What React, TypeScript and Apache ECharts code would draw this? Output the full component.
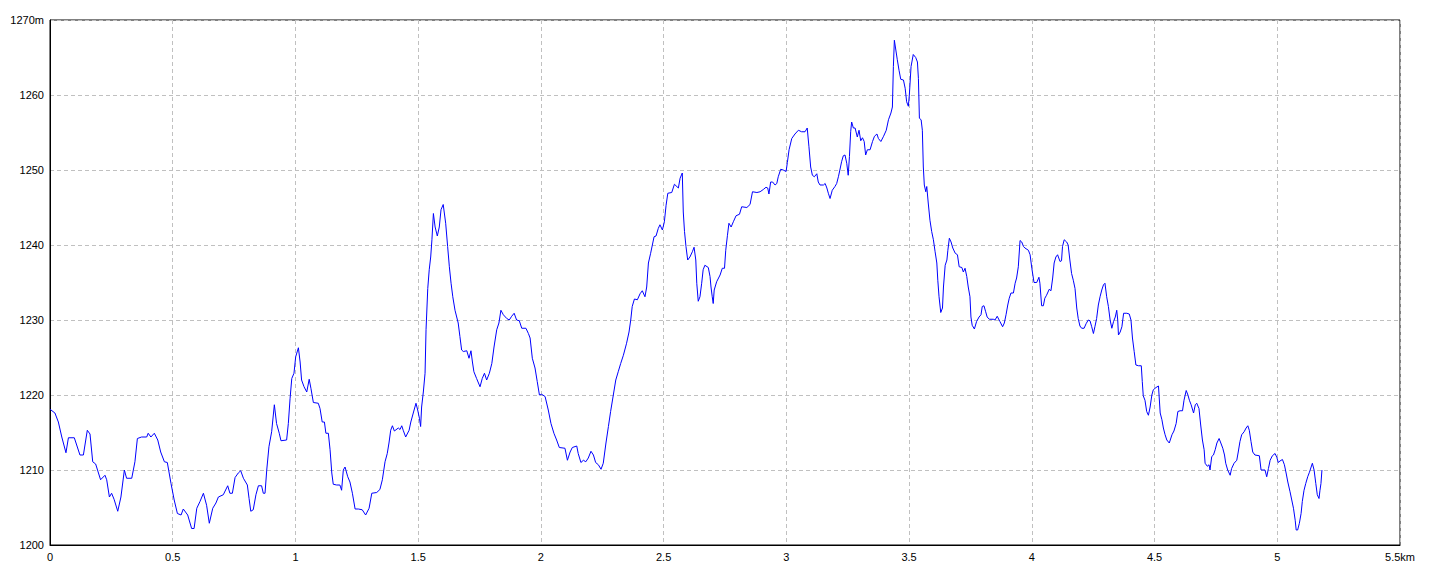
import React, { useEffect, useRef } from "react";
import * as echarts from "echarts";

const distKm: number[] = [
  0, 0.02, 0.034, 0.048, 0.065, 0.075, 0.099, 0.122, 0.136, 0.152, 0.163, 0.174, 0.186, 0.206, 0.224, 0.231, 0.242, 0.251, 0.261, 0.276,
  0.289, 0.303, 0.312, 0.333, 0.346, 0.356, 0.373, 0.394, 0.4, 0.411, 0.425, 0.439, 0.451, 0.466, 0.478, 0.493, 0.506, 0.519, 0.534, 0.543,
  0.561, 0.577, 0.587, 0.598, 0.611, 0.625, 0.638, 0.649, 0.663, 0.676, 0.686, 0.706, 0.724, 0.733, 0.743, 0.754, 0.767, 0.777, 0.788, 0.804,
  0.811, 0.818, 0.828, 0.839, 0.849, 0.862, 0.869, 0.876, 0.883, 0.892, 0.903, 0.914, 0.923, 0.934, 0.941, 0.964, 0.971, 0.978, 0.985, 0.994,
  1.001, 1.012, 1.019, 1.025, 1.035, 1.046, 1.056, 1.063, 1.073, 1.093, 1.1, 1.109, 1.118, 1.124, 1.134, 1.141, 1.148, 1.154, 1.168, 1.181,
  1.188, 1.195, 1.202, 1.213, 1.222, 1.232, 1.243, 1.256, 1.272, 1.286, 1.3, 1.311, 1.331, 1.344, 1.354, 1.365, 1.374, 1.381, 1.388, 1.395,
  1.403, 1.419, 1.426, 1.433, 1.439, 1.449, 1.463, 1.47, 1.48, 1.491, 1.498, 1.505, 1.51, 1.514, 1.521, 1.528, 1.532, 1.539, 1.545, 1.551,
  1.556, 1.562, 1.569, 1.578, 1.586, 1.593, 1.602, 1.612, 1.62, 1.627, 1.634, 1.641, 1.65, 1.663, 1.67, 1.677, 1.684, 1.698, 1.707, 1.715,
  1.721, 1.727, 1.738, 1.752, 1.761, 1.77, 1.779, 1.79, 1.8, 1.809, 1.82, 1.829, 1.837, 1.847, 1.861, 1.871, 1.881, 1.891, 1.901, 1.912,
  1.922, 1.939, 1.949, 1.956, 1.965, 1.976, 1.985, 1.994, 2.003, 2.017, 2.03, 2.041, 2.053, 2.064, 2.075, 2.098, 2.108, 2.119, 2.128, 2.146,
  2.152, 2.163, 2.173, 2.183, 2.193, 2.204, 2.214, 2.223, 2.234, 2.245, 2.254, 2.265, 2.275, 2.284, 2.295, 2.305, 2.315, 2.325, 2.336, 2.349,
  2.359, 2.366, 2.372, 2.381, 2.393, 2.404, 2.413, 2.424, 2.431, 2.438, 2.447, 2.454, 2.461, 2.469, 2.478, 2.485, 2.495, 2.503, 2.51, 2.517,
  2.533, 2.544, 2.56, 2.567, 2.576, 2.58, 2.585, 2.591, 2.598, 2.607, 2.617, 2.624, 2.631, 2.635, 2.641, 2.648, 2.655, 2.661, 2.668, 2.682,
  2.689, 2.693, 2.698, 2.702, 2.706, 2.716, 2.73, 2.739, 2.748, 2.753, 2.76, 2.766, 2.775, 2.784, 2.795, 2.809, 2.818, 2.839, 2.852, 2.862,
  2.88, 2.893, 2.906, 2.917, 2.924, 2.929, 2.936, 2.944, 2.954, 2.961, 2.967, 2.977, 2.987, 2.999, 3.004, 3.011, 3.022, 3.035, 3.049, 3.062,
  3.076, 3.085, 3.092, 3.099, 3.106, 3.114, 3.124, 3.13, 3.137, 3.151, 3.158, 3.165, 3.171, 3.178, 3.187, 3.198, 3.205, 3.212, 3.218, 3.225,
  3.232, 3.239, 3.246, 3.252, 3.257, 3.262, 3.266, 3.273, 3.28, 3.289, 3.296, 3.303, 3.31, 3.317, 3.323, 3.33, 3.341, 3.351, 3.359, 3.369,
  3.375, 3.385, 3.396, 3.407, 3.416, 3.426, 3.432, 3.436, 3.44, 3.446, 3.452, 3.459, 3.466, 3.477, 3.484, 3.49, 3.497, 3.501, 3.508, 3.517,
  3.527, 3.534, 3.538, 3.542, 3.549, 3.554, 3.558, 3.562, 3.568, 3.572, 3.578, 3.585, 3.592, 3.599, 3.606, 3.613, 3.617, 3.622, 3.629, 3.636,
  3.64, 3.647, 3.654, 3.658, 3.664, 3.671, 3.678, 3.688, 3.697, 3.704, 3.715, 3.721, 3.728, 3.735, 3.741, 3.748, 3.752, 3.757, 3.766, 3.775,
  3.785, 3.793, 3.798, 3.805, 3.812, 3.818, 3.827, 3.843, 3.85, 3.859, 3.87, 3.881, 3.888, 3.895, 3.902, 3.908, 3.915, 3.925, 3.932, 3.938,
  3.945, 3.952, 3.959, 3.966, 3.972, 3.986, 3.993, 4.0, 4.009, 4.02, 4.029, 4.033, 4.04, 4.047, 4.053, 4.06, 4.071, 4.078, 4.085, 4.091,
  4.098, 4.105, 4.115, 4.121, 4.125, 4.132, 4.142, 4.148, 4.155, 4.162, 4.169, 4.176, 4.183, 4.189, 4.196, 4.203, 4.213, 4.221, 4.23, 4.237,
  4.244, 4.251, 4.257, 4.264, 4.271, 4.278, 4.285, 4.292, 4.298, 4.305, 4.312, 4.319, 4.326, 4.333, 4.34, 4.346, 4.35, 4.353, 4.36, 4.367,
  4.374, 4.387, 4.397, 4.404, 4.41, 4.417, 4.424, 4.435, 4.446, 4.45, 4.454, 4.461, 4.468, 4.475, 4.482, 4.489, 4.495, 4.506, 4.516, 4.523,
  4.53, 4.536, 4.543, 4.55, 4.56, 4.571, 4.579, 4.588, 4.595, 4.604, 4.614, 4.62, 4.629, 4.636, 4.642, 4.649, 4.659, 4.666, 4.672, 4.681,
  4.688, 4.695, 4.702, 4.706, 4.715, 4.722, 4.726, 4.733, 4.74, 4.747, 4.754, 4.763, 4.77, 4.778, 4.785, 4.79, 4.798, 4.808, 4.814, 4.824,
  4.835, 4.841, 4.848, 4.855, 4.865, 4.873, 4.88, 4.886, 4.893, 4.9, 4.909, 4.927, 4.934, 4.95, 4.957, 4.964, 4.971, 4.98, 4.991, 4.998,
  5.004, 5.011, 5.021, 5.029, 5.036, 5.043, 5.052, 5.059, 5.066, 5.073, 5.077, 5.083, 5.09, 5.097, 5.102, 5.109, 5.116, 5.124, 5.131, 5.138,
  5.143, 5.15, 5.157, 5.163, 5.17, 5.174, 5.178, 5.182,
];

const elevM: number[] = [
  1218.1, 1217.6, 1216.4, 1214.4, 1212.3, 1214.3, 1214.3, 1212.0, 1212.0, 1215.3, 1214.8, 1211.1, 1210.8, 1208.7, 1209.3, 1208.7, 1206.4, 1206.9, 1206.1, 1204.5,
  1206.4, 1210.0, 1208.9, 1208.9, 1211.1, 1214.2, 1214.4, 1214.4, 1214.9, 1214.4, 1214.9, 1214.0, 1212.4, 1211.1, 1211.0, 1208.2, 1206.0, 1204.2, 1204.0, 1204.8,
  1204.0, 1202.2, 1202.2, 1204.9, 1205.8, 1206.9, 1205.3, 1202.9, 1204.9, 1205.6, 1206.4, 1206.7, 1207.9, 1206.9, 1206.9, 1209.0, 1209.6, 1209.9, 1208.9, 1208.0,
  1206.2, 1204.5, 1204.7, 1206.7, 1207.9, 1207.9, 1206.9, 1206.9, 1210.0, 1213.1, 1215.1, 1218.7, 1216.2, 1214.9, 1213.9, 1214.0, 1216.2, 1219.5, 1222.2, 1222.9,
  1225.1, 1226.3, 1224.4, 1222.0, 1221.1, 1220.4, 1222.1, 1220.9, 1219.0, 1218.9, 1218.2, 1216.4, 1216.4, 1214.9, 1214.9, 1212.7, 1209.6, 1208.1, 1208.0, 1208.0,
  1207.3, 1210.0, 1210.4, 1209.1, 1208.4, 1206.9, 1204.8, 1204.8, 1204.7, 1204.0, 1204.9, 1206.9, 1207.0, 1207.4, 1208.7, 1211.1, 1212.2, 1213.6, 1215.3, 1215.9,
  1215.2, 1215.6, 1215.4, 1215.9, 1215.3, 1214.4, 1215.3, 1216.4, 1217.6, 1218.9, 1218.0, 1216.9, 1215.8, 1218.4, 1220.4, 1222.9, 1228.7, 1234.2, 1236.7, 1238.4,
  1240.7, 1244.2, 1242.4, 1241.2, 1242.4, 1244.7, 1245.4, 1242.9, 1239.8, 1237.1, 1234.9, 1233.1, 1231.3, 1229.6, 1227.8, 1226.0, 1225.8, 1225.9, 1224.9, 1225.9,
  1224.4, 1223.1, 1222.2, 1221.1, 1222.2, 1222.9, 1222.0, 1222.9, 1224.2, 1226.4, 1228.7, 1229.6, 1231.3, 1230.7, 1230.2, 1230.0, 1230.5, 1230.9, 1230.0, 1229.9,
  1228.9, 1228.9, 1228.2, 1227.6, 1224.9, 1223.6, 1221.8, 1220.0, 1220.1, 1219.8, 1218.0, 1216.2, 1214.9, 1214.0, 1213.0, 1212.9, 1211.3, 1212.4, 1213.0, 1213.2,
  1212.2, 1211.0, 1211.3, 1211.1, 1211.6, 1212.5, 1212.0, 1211.0, 1210.7, 1210.1, 1210.9, 1213.6, 1215.8, 1217.8, 1220.0, 1222.0, 1223.1, 1224.2, 1225.3, 1226.9,
  1228.4, 1230.0, 1231.8, 1232.8, 1232.7, 1233.5, 1233.9, 1233.1, 1234.4, 1237.6, 1238.9, 1240.0, 1241.1, 1241.2, 1242.2, 1242.7, 1242.0, 1243.1, 1245.3, 1246.9,
  1247.0, 1248.1, 1247.6, 1248.9, 1249.6, 1244.4, 1241.8, 1239.8, 1238.0, 1238.4, 1239.1, 1239.7, 1238.0, 1234.9, 1232.5, 1233.1, 1234.9, 1236.7, 1237.3, 1237.0,
  1235.8, 1234.4, 1233.1, 1232.2, 1234.0, 1235.1, 1236.0, 1236.9, 1236.9, 1239.3, 1241.3, 1242.9, 1242.4, 1243.1, 1243.9, 1244.1, 1245.1, 1245.0, 1245.4, 1247.1,
  1247.0, 1247.1, 1247.4, 1247.7, 1247.6, 1246.8, 1248.4, 1248.4, 1248.0, 1248.2, 1249.1, 1250.1, 1250.0, 1249.8, 1251.0, 1252.7, 1254.2, 1254.8, 1255.3, 1255.1,
  1255.1, 1255.6, 1253.1, 1250.4, 1249.3, 1249.1, 1249.5, 1248.4, 1248.0, 1248.0, 1248.2, 1247.6, 1246.9, 1246.2, 1247.3, 1247.8, 1248.2, 1249.1, 1250.0, 1251.1,
  1251.9, 1252.0, 1250.9, 1249.3, 1251.8, 1255.1, 1256.4, 1255.6, 1255.6, 1254.4, 1255.3, 1253.9, 1254.3, 1253.8, 1252.0, 1252.7, 1252.7, 1253.8, 1254.5, 1254.8,
  1254.2, 1253.8, 1254.5, 1255.3, 1256.7, 1257.6, 1258.4, 1263.8, 1267.3, 1266.0, 1264.7, 1263.3, 1262.1, 1262.0, 1260.9, 1259.1, 1258.5, 1260.0, 1263.8, 1265.4,
  1265.0, 1264.4, 1262.2, 1256.9, 1256.7, 1255.3, 1250.4, 1248.0, 1247.1, 1247.8, 1245.6, 1243.3, 1241.8, 1240.7, 1239.1, 1237.6, 1235.3, 1233.1, 1231.0, 1231.6,
  1234.4, 1237.3, 1238.0, 1239.3, 1240.9, 1240.4, 1239.6, 1238.9, 1238.7, 1237.1, 1237.0, 1236.4, 1236.9, 1235.8, 1234.4, 1233.1, 1230.4, 1229.3, 1228.8, 1229.8,
  1230.4, 1230.7, 1231.8, 1231.9, 1231.1, 1230.4, 1230.1, 1230.1, 1230.0, 1230.5, 1229.8, 1229.1, 1229.6, 1230.7, 1232.0, 1232.9, 1233.6, 1233.6, 1234.9, 1235.6,
  1237.1, 1240.6, 1240.4, 1239.8, 1239.6, 1239.3, 1238.7, 1236.9, 1235.0, 1235.0, 1235.7, 1234.9, 1231.9, 1231.9, 1232.9, 1233.3, 1234.1, 1233.9, 1235.6, 1237.6,
  1238.4, 1238.7, 1237.8, 1237.9, 1239.8, 1240.7, 1240.4, 1240.0, 1238.0, 1236.2, 1235.3, 1234.2, 1231.6, 1230.2, 1229.2, 1228.9, 1228.9, 1229.5, 1230.0, 1229.9,
  1229.1, 1228.2, 1229.1, 1230.2, 1232.0, 1233.1, 1234.0, 1234.7, 1234.9, 1233.1, 1231.8, 1230.0, 1228.9, 1229.8, 1230.4, 1231.3, 1230.0, 1228.0, 1228.4, 1229.1,
  1230.9, 1230.9, 1230.8, 1230.0, 1227.6, 1225.8, 1224.0, 1223.9, 1223.9, 1221.8, 1219.9, 1219.3, 1217.8, 1217.3, 1218.4, 1220.0, 1220.7, 1221.0, 1221.2, 1217.6,
  1216.7, 1215.6, 1214.7, 1214.0, 1213.6, 1214.7, 1215.2, 1216.2, 1217.8, 1217.9, 1217.9, 1219.3, 1220.6, 1220.0, 1219.3, 1218.7, 1217.6, 1218.7, 1218.9, 1218.2,
  1216.0, 1214.0, 1212.7, 1210.9, 1210.5, 1210.7, 1210.0, 1211.8, 1212.0, 1212.7, 1213.6, 1214.2, 1213.6, 1212.9, 1212.0, 1210.9, 1210.0, 1209.3, 1210.2, 1210.9,
  1211.3, 1212.4, 1213.8, 1214.7, 1215.1, 1215.6, 1215.9, 1215.3, 1213.8, 1212.4, 1212.0, 1211.9, 1210.0, 1210.0, 1209.1, 1210.2, 1211.3, 1211.9, 1212.2, 1211.7,
  1211.0, 1211.2, 1211.4, 1210.7, 1209.6, 1208.4, 1207.1, 1206.0, 1204.9, 1203.3, 1202.0, 1202.0, 1202.9, 1204.2, 1205.8, 1207.3, 1208.2, 1209.1, 1209.7, 1210.4,
  1210.9, 1210.0, 1208.2, 1206.7, 1206.2, 1207.3, 1208.2, 1210.0,
];

const xMin = 0;
const xMax = 5.5;
const xStep = 0.5;
const yMin = 1200;
const yMax = 1270;
const yStep = 10;

export default function App() {
  const ref = useRef<HTMLDivElement>(null);

  useEffect(() => {
    if (!ref.current) return;
    const chart = echarts.init(ref.current, null, { renderer: "svg" });
    const data = distKm.map((d, i) => [d, elevM[i]]);
    const labelFont = {
      color: "#000",
      fontSize: 11,
      fontFamily: "Liberation Sans, Arial, sans-serif",
    };
    const splitStyle = {
      show: true,
      lineStyle: { color: "#c0c0c0", type: [4, 3] as any, width: 1 },
    };
    chart.setOption({
      animation: false,
      backgroundColor: "#fff",
      grid: {
        left: 50,
        right: 40,
        top: 20,
        bottom: 31,
        show: true,
        borderColor: "#000",
        borderWidth: 1,
        backgroundColor: "transparent",
      },
      xAxis: {
        type: "value",
        min: xMin,
        max: xMax,
        interval: xStep,
        axisLine: { show: true, lineStyle: { color: "#000", width: 1 } },
        axisTick: { show: false },
        splitLine: splitStyle,
        axisLabel: {
          ...labelFont,
          margin: 6,
          showMinLabel: true,
          showMaxLabel: true,
          formatter: (v: number) => (Math.abs(v - xMax) < 1e-9 ? `${v}km` : `${v}`),
        },
      },
      yAxis: {
        type: "value",
        min: yMin,
        max: yMax,
        interval: yStep,
        axisLine: { show: true, lineStyle: { color: "#000", width: 1 } },
        axisTick: { show: false },
        splitLine: splitStyle,
        axisLabel: {
          ...labelFont,
          margin: 6,
          showMinLabel: true,
          showMaxLabel: true,
          formatter: (v: number) => (v === yMax ? `${v}m` : `${v}`),
        },
      },
      series: [
        {
          type: "line",
          data,
          showSymbol: false,
          symbol: "none",
          lineStyle: { color: "#0000ff", width: 1 },
          silent: true,
        },
      ],
    });
    return () => chart.dispose();
  }, []);

  return (
    <div
      ref={ref}
      style={{ position: "fixed", left: 0, top: 0, width: 1440, height: 576, background: "#fff" }}
    />
  );
}
